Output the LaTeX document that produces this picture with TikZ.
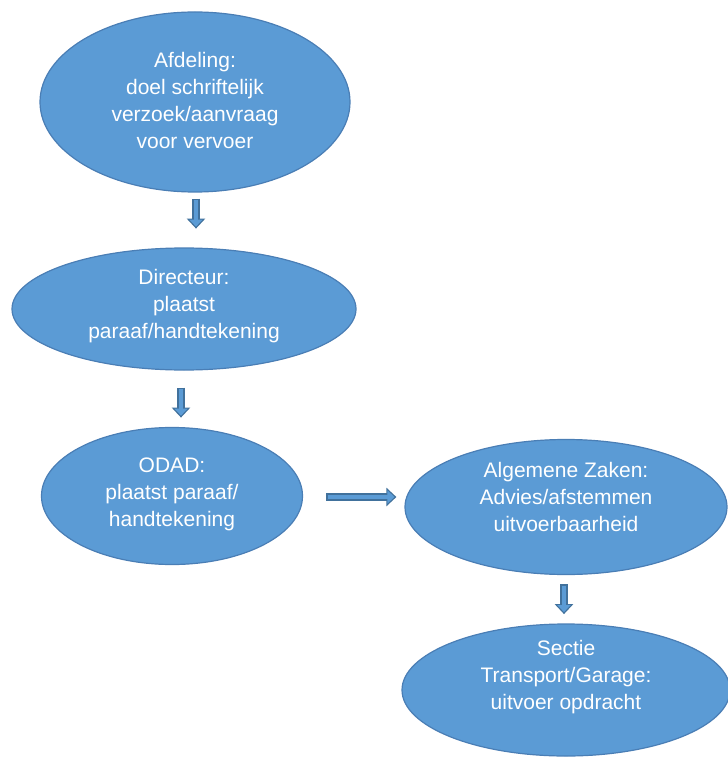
\documentclass[tikz,border=0pt]{standalone}
\usepackage{fontspec}
\setmainfont{Liberation Sans}
\usetikzlibrary{shapes.geometric,arrows.meta,calc}
\definecolor{ellfill}{HTML}{5B9BD5}
\definecolor{elldraw}{HTML}{4A7EB5}
\definecolor{arrdark}{HTML}{41719C}
\definecolor{arrlight}{HTML}{5B9BD5}
\begin{document}
\begin{tikzpicture}[x=1pt,y=-1pt,
  ell/.style={ellipse,fill=ellfill,draw=elldraw,line width=1.2pt,inner sep=0pt},
  txt/.style={text=white,align=center,font=\fontsize{21}{27}\selectfont},
  arrouter/.style={draw=arrdark,line width=8pt,-{Triangle[width=18pt,length=10pt]}},
  arrinner/.style={draw=arrlight,line width=4.5pt,-{Triangle[width=13pt,length=7pt]},shorten <=1.75pt,shorten >=2pt}]
\useasboundingbox (0,0) rectangle (727,759);
% ellipses
\node[ell,minimum width=310,minimum height=180] (a) at (195,102) {};
\node[txt] (at) at (195,100) {Afdeling:\\doel schriftelijk\\verzoek/aanvraag\\voor vervoer};
\node[ell,minimum width=344,minimum height=122] (b) at (184,309) {};
\node[txt] (bt) at (184,306) {Directeur:\\plaatst\\paraaf/handtekening};
\node[ell,minimum width=261,minimum height=137] (c) at (172,496) {};
\node[txt] (ct) at (172,494) {ODAD:\\plaatst paraaf/\\handtekening};
\node[ell,minimum width=322,minimum height=135] (d) at (566,507) {};
\node[txt] (dt) at (566,497) {Algemene Zaken:\\Advies/afstemmen\\uitvoerbaarheid};
\node[ell,minimum width=328,minimum height=132] (e) at (566,690) {};
\node[txt] (et) at (566,677) {Sectie\\Transport/Garage:\\uitvoer opdracht};
% arrows
\coordinate (a1s) at ($(a.south)+(1,6)$);
\coordinate (a1e) at ($(a1s)+(0,30)$);
\draw[arrouter] (a1s) -- (a1e);
\draw[arrinner] (a1s) -- (a1e);
\coordinate (a2s) at ($(b.south)+(-3,17)$);
\coordinate (a2e) at ($(a2s)+(0,30)$);
\draw[arrouter] (a2s) -- (a2e);
\draw[arrinner] (a2s) -- (a2e);
\coordinate (a3s) at (326,497);
\coordinate (a3e) at ($(d.west)+(-8,-10)$);
\draw[arrouter] (a3s) -- (a3e);
\draw[arrinner] (a3s) -- (a3e);
\coordinate (a4s) at ($(d.south)+(-2,9)$);
\coordinate (a4e) at ($(a4s)+(0,30)$);
\draw[arrouter] (a4s) -- (a4e);
\draw[arrinner] (a4s) -- (a4e);
\end{tikzpicture}
\end{document}
